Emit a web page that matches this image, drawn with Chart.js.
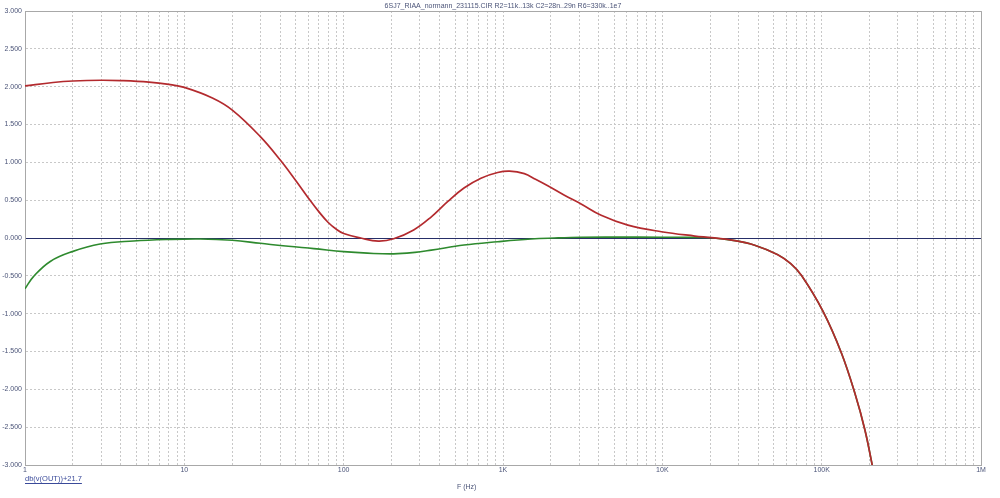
<!DOCTYPE html>
<html><head><meta charset="utf-8">
<script src="https://cdn.jsdelivr.net/npm/chart.js@4.4.1/dist/chart.umd.min.js"></script>
<style>html,body{margin:0;padding:0;background:#fff;}canvas{display:block;}</style>
</head><body>
<canvas id="c" width="1000" height="498"></canvas>
<script>
// ---- text ----
const titleText = "6SJ7_RIAA_normann_231115.CIR R2=11k..13k C2=28n..29n R6=330k..1e7";
const xAxisTitle = "F (Hz)";
const traceLabel = "db(v(OUT))+21.7";

// ---- tick labels ----
const xDecades = [1, 10, 100, 1000, 10000, 100000];
const xMultipliers = [1, 2, 3, 4, 5, 6, 7, 8, 9];
const xMax = 1000000;
const xTickLabels = {1: "1", 10: "10", 100: "100", 1000: "1K", 10000: "10K", 100000: "100K", 1000000: "1M"};
const yMin = -3, yMax = 3, yStep = 0.5;
const yReference = 0;

// ---- red trace ----
const freqRed = [1, 1.5, 2, 3, 4, 6, 8, 10, 15, 20, 30, 40, 50, 60, 70, 80, 90, 100, 128, 165, 206, 275, 355, 449, 569, 727, 926, 1100, 1360, 1600, 1910, 2430, 3090, 4130, 6080, 9860, 16000, 20300, 28500, 38000, 53000, 64000, 75000, 102000, 133000, 162000, 187000, 209000];
const valsRed = [2.01, 2.055, 2.075, 2.085, 2.08, 2.06, 2.03, 1.99, 1.85, 1.69, 1.34, 1.03, 0.76, 0.53, 0.345, 0.205, 0.115, 0.06, 0.0, -0.04, -0.01, 0.106, 0.28, 0.48, 0.66, 0.79, 0.865, 0.883, 0.85, 0.776, 0.69, 0.565, 0.45, 0.3, 0.17, 0.083, 0.026, 0.004, -0.035, -0.095, -0.22, -0.34, -0.5, -0.97, -1.52, -2.06, -2.54, -3.03];

// ---- green trace ----
const freqGreen = [1, 1.13, 1.44, 1.98, 2.96, 4.8, 7.8, 12.6, 20, 30, 45, 65, 100, 141, 206, 280, 355, 569, 926, 1500, 2100, 3100, 5000, 10000, 15000, 20300, 28500, 38000, 53000, 64000, 75000, 102000, 133000, 162000, 187000, 209000];
const valsGreen = [-0.67, -0.51, -0.31, -0.18, -0.08, -0.04, -0.02, -0.013, -0.03, -0.07, -0.11, -0.14, -0.18, -0.2, -0.21, -0.19, -0.16, -0.093, -0.049, -0.013, 0.0, 0.01, 0.012, 0.01, 0.008, 0.004, -0.035, -0.095, -0.22, -0.34, -0.5, -0.97, -1.52, -2.06, -2.54, -3.03];

const xGridValues = [];
xDecades.forEach(d => xMultipliers.forEach(m => xGridValues.push(d * m)));
xGridValues.push(xMax);

const toPts = (xs, ys) => xs.map((x, i) => ({x: x, y: ys[i]}));
const FONT = "'Liberation Sans', Arial, sans-serif";
const textColor = '#4b5478';
const gridColor = '#c8c8c8';
const zeroColor = '#262e68';
const isRef = (c) => !!(c && c.tick && Math.abs(c.tick.value - yReference) < 1e-9);

const framePlugin = {
  id: 'frame',
  afterDraw(chart) {
    const {ctx, chartArea: a} = chart;
    ctx.save();
    ctx.strokeStyle = '#a8a8a8';
    ctx.lineWidth = 1;
    ctx.beginPath();
    ctx.moveTo(a.left, a.top + 0.5);
    ctx.lineTo(a.right + 0.5, a.top + 0.5);
    ctx.lineTo(a.right + 0.5, a.bottom);
    ctx.stroke();
    // x axis title
    ctx.font = "7px " + FONT;
    ctx.fillStyle = textColor;
    ctx.textAlign = 'center';
    ctx.textBaseline = 'middle';
    ctx.fillText(xAxisTitle, a.left + (a.right - a.left) * 0.462, 487);
    // trace label, underlined
    ctx.font = "7.5px " + FONT;
    ctx.fillStyle = '#3a4a9a';
    ctx.textAlign = 'left';
    ctx.fillText(traceLabel, a.left, 479);
    const w = ctx.measureText(traceLabel).width;
    ctx.strokeStyle = '#3a4a9a';
    ctx.beginPath();
    ctx.moveTo(a.left, 483.5);
    ctx.lineTo(a.left + w, 483.5);
    ctx.stroke();
    ctx.restore();
  }
};

new Chart(document.getElementById('c'), {
  type: 'line',
  data: {
    datasets: [
      {label: 'red', data: toPts(freqRed, valsRed), borderColor: '#b32a2e', borderWidth: 1.7, pointRadius: 0, tension: 0.4, fill: false},
      {label: 'green', data: toPts(freqGreen, valsGreen), borderColor: '#2e8a2e', borderWidth: 1.6, pointRadius: 0, tension: 0.4, fill: false}
    ]
  },
  options: {
    responsive: false,
    animation: false,
    events: [],
    layout: {padding: {left: 0, right: 19, top: 0, bottom: 0}},
    plugins: {
      legend: {display: false},
      tooltip: {enabled: false},
      title: {display: true, text: titleText, color: textColor, font: {size: 7, family: FONT, weight: 'normal'}, padding: {top: 1.5, bottom: 1.1}, fullSize: false}
    },
    scales: {
      x: {
        type: 'logarithmic', min: 1, max: xMax,
        afterBuildTicks: (scale) => { scale.ticks = xGridValues.map(v => ({value: v})); },
        afterFit: (scale) => { scale.height = 33; },
        ticks: {autoSkip: false, maxRotation: 0, padding: 1, color: textColor, font: {size: 7, family: FONT},
          callback: (v) => xTickLabels[v] || ''},
        grid: {color: gridColor, lineWidth: 1, drawTicks: false},
        border: {display: true, color: '#a8a8a8', width: 1, dash: [2, 2]}
      },
      y: {
        min: yMin, max: yMax,
        afterFit: (scale) => { scale.width = 25; },
        ticks: {stepSize: yStep, padding: 3, color: textColor, font: {size: 7, family: FONT},
          callback: (v) => Number(v).toFixed(3)},
        grid: {color: (c) => isRef(c) ? zeroColor : gridColor, lineWidth: 1, drawTicks: false},
        border: {display: true, color: '#a8a8a8', width: 1, dash: (c) => isRef(c) ? [] : [2, 2]}
      }
    }
  },
  plugins: [framePlugin]
});
</script>
</body></html>
